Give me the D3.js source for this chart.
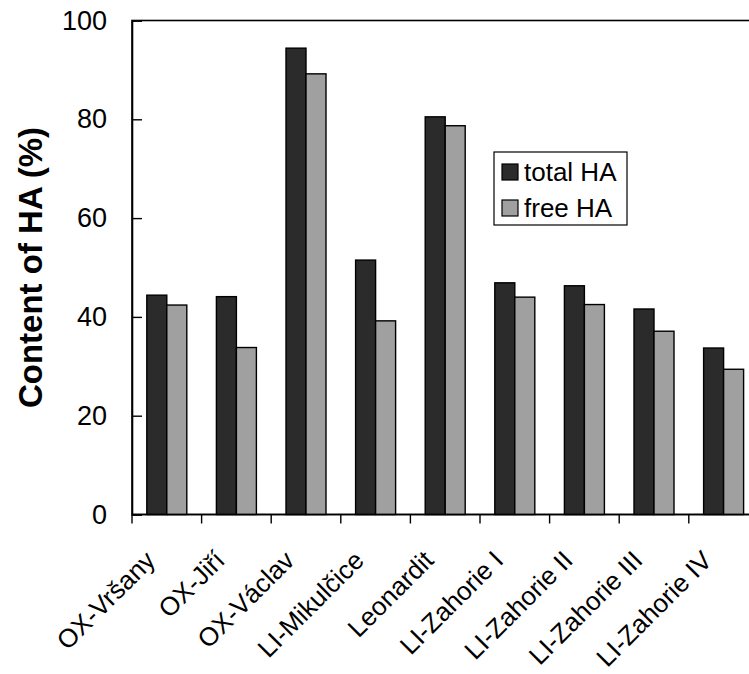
<!DOCTYPE html>
<html>
<head>
<meta charset="utf-8">
<script src="https://cdn.jsdelivr.net/npm/d3@7"></script>
<style>
  html, body { margin: 0; padding: 0; background: #fff; }
  svg { display: block; }
  text { font-family: Arial, "Liberation Sans", sans-serif; fill: #000; }
</style>
</head>
<body>
<svg id="chart" width="749" height="674"></svg>
<script>
const categories = ["OX-Vršany", "OX-Jiří", "OX-Václav", "LI-Mikulčice", "Leonardit",
                    "LI-Zahorie I", "LI-Zahorie II", "LI-Zahorie III", "LI-Zahorie IV"];
const totalHA = [44.4, 44.1, 94.4, 51.5, 80.5, 46.9, 46.3, 41.6, 33.7];
const freeHA  = [42.4, 33.8, 89.2, 39.2, 78.7, 44.0, 42.5, 37.1, 29.4];
const seriesNames = ["total HA", "free HA"];
const seriesColors = ["#2b2b2b", "#a0a0a0"];
const yTicks = [0, 20, 40, 60, 80, 100];
const yTitle = "Content of HA (%)";

const svg = d3.select("#chart");
const pLeft = 132, pRight = 758.4, pTop = 20.5, pBottom = 514.5;

const x = d3.scaleBand().domain(categories).range([pLeft, pRight]).paddingInner(0).paddingOuter(0);
const xs = d3.scaleBand().domain(seriesNames).range([0, x.bandwidth()]).paddingInner(0).paddingOuter(0.74);
const y = d3.scaleLinear().domain([0, 100]).range([pBottom, pTop]);

const data = categories.map((c, i) => ({ cat: c, values: [totalHA[i], freeHA[i]] }));

// plot area border
svg.append("rect")
  .attr("x", pLeft).attr("y", pTop)
  .attr("width", pRight - pLeft).attr("height", pBottom - pTop)
  .attr("fill", "none").attr("stroke", "#000").attr("stroke-width", 1.6);

// bars
const groups = svg.append("g").selectAll("g").data(data).join("g")
  .attr("transform", d => `translate(${x(d.cat)},0)`);
groups.selectAll("rect").data(d => d.values.map((v, j) => ({ s: seriesNames[j], v, j })))
  .join("rect")
  .attr("x", d => xs(d.s))
  .attr("y", d => y(d.v))
  .attr("width", xs.bandwidth())
  .attr("height", d => y(0) - y(d.v))
  .attr("fill", d => seriesColors[d.j])
  .attr("stroke", "#000").attr("stroke-width", 1.4);

// y axis (inside ticks)
const yAxis = d3.axisLeft(y).tickValues(yTicks).tickSize(-10).tickPadding(25).tickFormat(d3.format("d"));
const gy = svg.append("g").attr("transform", `translate(${pLeft},0)`).call(yAxis);
gy.select(".domain").attr("stroke", "#000").attr("stroke-width", 1.6);
gy.selectAll(".tick line").attr("stroke", "#000").attr("stroke-width", 1.4);
gy.selectAll(".tick text").attr("font-size", 27).attr("font-family", "Arial, 'Liberation Sans', sans-serif").attr("fill", "#000");

// x axis: ticks at category boundaries
const gx = svg.append("g").attr("transform", `translate(0,${pBottom})`);
gx.append("line").attr("x1", pLeft).attr("x2", pRight).attr("stroke", "#000").attr("stroke-width", 1.6);
const boundaries = categories.map(c => x(c));
gx.selectAll("line.tk").data(boundaries).join("line").attr("class", "tk")
  .attr("x1", d => d).attr("x2", d => d).attr("y1", 0).attr("y2", 9)
  .attr("stroke", "#000").attr("stroke-width", 1.4);
gx.selectAll("text").data(categories).join("text")
  .attr("transform", d => `translate(${x(d) + x.bandwidth() / 2 - 10},${562 - pBottom}) rotate(-45)`)
  .attr("text-anchor", "end")
  .attr("font-size", 26)
  .text(d => d);

// y title
svg.append("text")
  .attr("transform", `translate(42,${(pTop + pBottom) / 2}) rotate(-90)`)
  .attr("text-anchor", "middle")
  .attr("font-size", 33).attr("font-weight", "bold")
  .text(yTitle);

// legend
const lg = svg.append("g");
lg.append("rect").attr("x", 494).attr("y", 152).attr("width", 133).attr("height", 73)
  .attr("fill", "#fff").attr("stroke", "#000").attr("stroke-width", 1.2);
seriesNames.forEach((s, i) => {
  const cy = 172 + i * 36;
  lg.append("rect").attr("x", 502).attr("y", cy - 8).attr("width", 16).attr("height", 16)
    .attr("fill", seriesColors[i]).attr("stroke", "#000").attr("stroke-width", 1.2);
  lg.append("text").attr("x", 524).attr("y", cy + 9).attr("font-size", 26).text(s);
});
</script>
</body>
</html>
